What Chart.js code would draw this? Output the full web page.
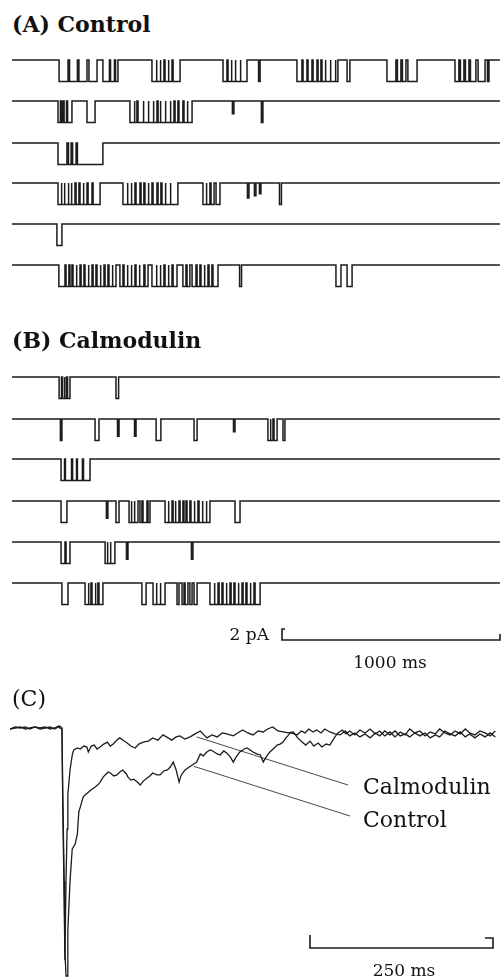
<!DOCTYPE html>
<html>
<head>
<meta charset="utf-8">
<title>Single-channel openings: Control vs Calmodulin</title>
<script src="https://cdn.jsdelivr.net/npm/chart.js@4.4.1/dist/chart.umd.min.js"></script>
<style>
  html, body { margin: 0; padding: 0; background: #fff; }
  #fig { position: relative; width: 502px; height: 977px; overflow: hidden; font-family: "DejaVu Serif", "Liberation Serif", serif; color: #111; }
  .box { position: absolute; left: 0; width: 502px; }
  .lbl { position: absolute; line-height: 1; white-space: nowrap; }
</style>
</head>
<body>
<div id="fig">
  <div class="box" style="top:40px;height:640px"><canvas id="chart-ab"></canvas></div>
  <div class="box" style="top:680px;height:297px"><canvas id="chart-c"></canvas></div>

  <div class="lbl" style="left:12px;top:13px;font-size:22px;font-weight:bold">(A) Control</div>
  <div class="lbl" style="left:12px;top:329px;font-size:22px;font-weight:bold">(B) Calmodulin</div>
  <div class="lbl" style="right:233px;top:626px;font-size:17px">2 pA</div>
  <div class="lbl" style="left:390px;top:654px;font-size:17px;transform:translateX(-50%)">1000 ms</div>
  <div class="lbl" style="left:12px;top:688px;font-size:22px">(C)</div>
  <div class="lbl" style="left:363px;top:776px;font-size:22px">Calmodulin</div>
  <div class="lbl" style="left:363px;top:809px;font-size:22px">Control</div>
  <div class="lbl" style="left:404px;top:962px;font-size:17px;transform:translateX(-50%)">250 ms</div>
</div>

<script>
// single-channel sweeps: open intervals [start ms, end ms, fraction of unitary current]
const SWEEP_MS = 2238;
const UNITARY_PA = 3.9;
const SCALE_AB_MS = 1000;
const SCALE_AB_PA = 2;

const ctlSweep1 = [[216,257],[264,300],[307,344],[353,390],[417,447],[452,470],[475,486],[642,661],[665,679],[683,697],[702,716],[720,734],[739,771],[968,986],[991,1005],[1009,1023],[1027,1046],[1050,1078],[1131,1138],[1307,1330],[1335,1353],[1358,1376],[1381,1399],[1404,1417],[1422,1436],[1440,1459],[1463,1482],[1486,1495],[1537,1550],[1720,1761],[1768,1784],[1791,1807],[1816,1858],[2032,2050],[2057,2073],[2080,2096],[2103,2128],[2138,2170],[2181,2188]];
const ctlSweep2 = [[211,222],[227,234],[239,250],[255,275],[344,381],[541,560],[564,573],[578,601],[605,624],[628,647],[651,665],[670,679],[683,702],[706,725],[729,743],[748,761],[766,784],[789,803],[807,826],[1011,1018,0.6],[1144,1151]];
const ctlSweep3 = [[211,252],[259,271],[278,294],[300,417]];
const ctlSweep4 = [[211,225],[229,239],[243,257],[261,271],[275,289],[294,307],[312,326],[330,344],[349,367],[372,404],[509,528],[532,546],[550,564],[569,587],[592,605],[610,624],[628,642],[647,665],[670,683],[688,702],[706,725],[729,761],[876,890],[894,908],[913,927],[936,954],[1080,1087,0.7],[1112,1119,0.6],[1135,1142,0.5],[1227,1236]];
const ctlSweep5 = [[206,229]];
const ctlSweep6 = [[215,243],[248,261],[266,275],[280,294],[298,312],[317,330],[335,349],[353,367],[372,385],[390,404],[408,422],[427,440],[445,459],[463,477],[495,509],[514,528],[532,546],[550,564],[569,583],[587,605],[610,624],[642,661],[665,679],[683,697],[702,716],[720,734],[739,757],[784,798],[803,816],[826,844],[849,862],[867,881],[885,899],[904,917],[922,945],[1044,1053],[1486,1509],[1537,1560]];

const camSweep1 = [[216,227],[232,239],[243,250],[255,266],[477,489]];
const camSweep2 = [[222,229],[381,399],[484,491,0.8],[562,569,0.8],[661,683],[835,849],[1016,1023,0.6],[1174,1184],[1188,1197],[1202,1216],[1243,1252]];
const camSweep3 = [[225,241],[245,273],[278,296],[300,323],[328,358]];
const camSweep4 = [[225,252],[433,440,0.8],[477,491],[537,546],[550,560],[564,578],[587,596],[601,619],[624,633],[702,716],[720,734],[739,748],[752,766],[771,784],[789,798],[803,816],[821,835],[839,853],[858,872],[876,890],[894,908],[1023,1046]];
const camSweep5 = [[225,243],[248,266],[427,436],[440,450],[454,472],[525,532,0.8],[823,830,0.8]];
const camSweep6 = [[229,257],[335,349],[353,362],[367,381],[385,394],[399,417],[596,615],[647,661],[665,679],[683,702],[757,766],[780,789],[794,807],[816,826],[835,849],[908,927],[931,945],[950,963],[968,982],[986,1000],[1005,1018],[1023,1037],[1041,1055],[1060,1073],[1078,1092],[1096,1110],[1115,1138]];

// (C) averaged currents, [time ms, % of control peak]
const SCALE_C_MS = 250;
const camAverage = [[0,-0.4],[7,0.4],[14,0],[21,0.4],[27,-0.4],[34,0.4],[41,0],[48,0.4],[55,-0.4],[61,0],[66,0.8],[68,0],[71,-0.4],[72,-29],[74,-70],[75,-94],[76.5,-62],[78,-41],[79,-27],[82,-17],[85,-11],[87,-8.9],[92,-8.1],[96,-8.5],[101,-7.3],[105,-7.7],[107,-9.7],[111,-7.3],[115,-6.9],[119,-8.5],[123,-7.7],[128,-6.5],[133,-5.7],[137,-7.3],[141,-6.5],[146,-4.9],[150,-4],[156,-5.3],[160,-6.1],[165,-7.3],[171,-8.1],[176,-6.5],[182,-5.7],[189,-5.3],[195,-4],[202,-4.9],[209,-2.8],[216,-4],[221,-4.9],[227,-3.6],[232,-3.2],[239,-4.5],[246,-3.6],[253,-2.4],[260,-1.2],[265,-2.8],[269,-4],[276,-2.8],[283,-3.6],[290,-2],[296,-2.4],[305,-3.2],[311,-2],[318,-0.8],[325,-2],[332,-2.8],[339,-1.2],[346,-1.6],[352,-0.4],[359,0.4],[366,-1.2],[373,-1.6],[380,-2],[387,-1.6],[393,-4],[399,-5.7],[404,-6.9],[410,-5.3],[415,-7.3],[421,-6.1],[426,-7.7],[432,-6.5],[437,-6.9],[443,-4],[448,-2],[454,-0.8],[459,-2.4],[464,-1.2],[471,-2.8],[478,-0.8],[485,-2],[492,-0.4],[499,-2.4],[505,-1.2],[512,-3.2],[519,-1.6],[526,-3.6],[533,-1.6],[540,-2.8],[546,-0.4],[553,-2],[560,-1.2],[567,-3.2],[574,-1.6],[581,-2.4],[587,-0.4],[594,-2],[601,-2.8],[608,-1.2],[615,-2.4],[622,-0.4],[628,-2],[635,-2.8],[642,-1.2],[649,-2],[656,-3.2],[660,-2],[663,-1.2]];
const ctlAverage = [[0,-0.4],[7,0],[14,0.4],[21,-0.4],[27,0],[34,0.4],[41,-0.4],[48,0],[55,0.4],[61,-0.4],[66,0.4],[68,0.8],[71,0],[72,-25],[74,-62],[75,-90],[76.5,-100.4],[78,-100.4],[79,-82],[82,-62],[85,-49],[89,-47],[92,-43],[94,-34],[97,-31],[100,-28],[103,-27],[107,-26],[111,-25],[116,-24],[120,-23],[123,-22],[127,-20],[130,-19],[134,-17.8],[137,-18.2],[142,-19.4],[146,-19],[150,-17.8],[154,-17],[159,-18.6],[161,-19.8],[165,-21.1],[169,-20.7],[174,-21.9],[178,-23.1],[182,-21.5],[187,-20.3],[191,-19.4],[195,-18.2],[201,-19],[205,-19],[210,-17.4],[215,-17],[219,-15.8],[223,-13.8],[227,-17],[231,-21.9],[234,-19],[239,-17],[245,-15.8],[249,-15],[253,-14.2],[255,-13.8],[260,-10.5],[264,-11.3],[269,-9.7],[273,-8.9],[277,-9.3],[283,-10.5],[287,-10.9],[292,-9.3],[296,-10.1],[301,-11.7],[305,-13.8],[309,-11.7],[314,-9.7],[320,-8.5],[324,-8.1],[328,-8.9],[332,-9.7],[337,-10.5],[342,-10.9],[346,-13.8],[350,-11.7],[355,-9.7],[361,-8.1],[365,-6.9],[369,-6.5],[373,-5.7],[377,-4],[383,-2],[388,-2.4],[392,-2.8],[398,-1.2],[403,-2],[408,-0.4],[414,-1.6],[419,-0.8],[425,-2],[430,-0.4],[437,-1.6],[444,-2.4],[451,-2.8],[458,-1.2],[464,-3.2],[471,-2],[478,-3.6],[485,-2.4],[492,-4],[499,-2],[505,-3.2],[512,-1.2],[519,-2.8],[526,-1.2],[533,-3.2],[540,-2.4],[546,-3.6],[553,-2],[560,-3.2],[567,-2],[574,-4],[581,-2.8],[587,-3.6],[594,-1.2],[601,-2.4],[608,-3.2],[615,-1.6],[622,-3.6],[628,-2.4],[635,-4],[642,-2.4],[649,-3.6],[656,-2],[663,-3.6]];

// layout (page pixels)
const AB_TOP = 40, AB_H = 640, AB_X0 = 12, AB_PX_PER_MS = 0.218, PX_PER_PA = 5.5;
const A_ROWS = [60, 101, 143, 183, 224, 265];
const B_ROWS = [377, 419, 459, 501, 542, 583];
const C_TOP = 680, C_H = 297, C_X0 = 10, C_BASE = 728, C_PX_PER_MS = 0.732, C_PX_PER_PCT = 2.47;

const INK = '#1b1b1b';
const abY = py => -(py - AB_TOP) / PX_PER_PA;
const cX = px => (px - C_X0) / C_PX_PER_MS;
const cY = py => (C_BASE - py) / C_PX_PER_PCT;

function sweepPoints(events, base) {
  const pts = [{ x: 0, y: base }];
  events.forEach(([s, e, f = 1]) => {
    const lo = base - f * UNITARY_PA;
    pts.push({ x: s, y: base }, { x: s, y: lo }, { x: e, y: lo }, { x: e, y: base });
  });
  pts.push({ x: SWEEP_MS, y: base });
  return pts;
}

function lineSet(data, width = 1.2, color = INK) {
  return { data, borderColor: color, borderWidth: width, pointRadius: 0, tension: 0, fill: false, clip: false };
}

const baseOptions = (xmin, xmax, ymin, ymax) => ({
  responsive: true,
  maintainAspectRatio: false,
  animation: false,
  events: [],
  layout: { padding: 0 },
  plugins: { legend: { display: false }, tooltip: { enabled: false } },
  scales: {
    x: { type: 'linear', display: false, min: xmin, max: xmax },
    y: { type: 'linear', display: false, min: ymin, max: ymax }
  }
});

// panels A and B
const ctlSweeps = [ctlSweep1, ctlSweep2, ctlSweep3, ctlSweep4, ctlSweep5, ctlSweep6];
const camSweeps = [camSweep1, camSweep2, camSweep3, camSweep4, camSweep5, camSweep6];
const abSets = [];
ctlSweeps.forEach((ev, i) => abSets.push(lineSet(sweepPoints(ev, abY(A_ROWS[i])), 1.5)));
camSweeps.forEach((ev, i) => abSets.push(lineSet(sweepPoints(ev, abY(B_ROWS[i])), 1.5)));

// 2 pA / 1000 ms scale bar
const barX = (282 - AB_X0) / AB_PX_PER_MS;
const barBottom = abY(640);
const barTop = barBottom + SCALE_AB_PA;
abSets.push(lineSet([
  { x: barX + 14, y: barTop }, { x: barX, y: barTop }, { x: barX, y: barBottom },
  { x: barX + SCALE_AB_MS, y: barBottom }, { x: barX + SCALE_AB_MS, y: barBottom + 1.1 }
], 1.6));

new Chart(document.getElementById('chart-ab'), {
  type: 'line',
  data: { datasets: abSets },
  options: baseOptions(-AB_X0 / AB_PX_PER_MS, (502 - AB_X0) / AB_PX_PER_MS, abY(AB_TOP + AB_H), 0)
});

// panel C
const toXY = arr => arr.map(([x, y]) => ({ x, y }));
const valueAt = (arr, t) => arr.reduce((a, b) => Math.abs(b[0] - t) < Math.abs(a[0] - t) ? b : a)[1];

const leaderFrom = 255;
const cSets = [
  lineSet(toXY(ctlAverage), 1.3),
  lineSet(toXY(camAverage), 1.3),
  lineSet([{ x: leaderFrom, y: valueAt(camAverage, leaderFrom) - 1.2 }, { x: cX(348), y: cY(785) }], 0.9, '#333'),
  lineSet([{ x: leaderFrom - 4, y: valueAt(ctlAverage, leaderFrom - 4) - 0.5 }, { x: cX(350), y: cY(816) }], 0.9, '#333')
];

const cBarX = cX(310), cBarY = cY(948);
cSets.push(lineSet([
  { x: cBarX, y: cY(935) }, { x: cBarX, y: cBarY },
  { x: cBarX + SCALE_C_MS, y: cBarY }, { x: cBarX + SCALE_C_MS, y: cY(938) }, { x: cBarX + SCALE_C_MS - 11, y: cY(938) }
], 1.6));

new Chart(document.getElementById('chart-c'), {
  type: 'line',
  data: { datasets: cSets },
  options: baseOptions(cX(0), cX(502), cY(C_TOP + C_H), cY(C_TOP))
});
</script>
</body>
</html>
